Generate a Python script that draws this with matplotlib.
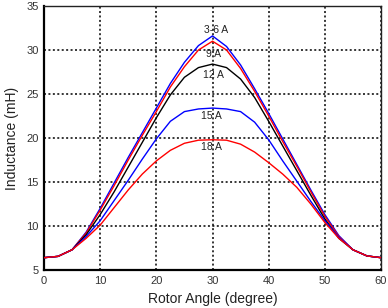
import matplotlib
matplotlib.use("Agg")
import matplotlib.pyplot as plt

angles = [0, 2.5, 5, 7.5, 10, 12.5, 15, 17.5, 20, 22.5, 25, 27.5, 30,
          32.5, 35, 37.5, 40, 42.5, 45, 47.5, 50, 52.5, 55, 57.5, 60]

L_3_6A = [6.4, 6.55, 7.3, 9.3, 12.0, 14.9, 17.8, 20.6, 23.4, 26.2, 28.6, 30.5, 31.6,
          30.4, 28.3, 25.6, 22.8, 19.9, 17.0, 14.1, 11.3, 8.9, 7.3, 6.6, 6.4]
L_9A = [6.4, 6.55, 7.3, 9.2, 11.8, 14.6, 17.5, 20.3, 23.0, 25.8, 28.1, 30.0, 31.0,
        30.0, 27.9, 25.3, 22.5, 19.6, 16.8, 13.9, 11.1, 8.8, 7.3, 6.6, 6.4]
L_12A = [6.4, 6.55, 7.3, 9.0, 11.3, 13.9, 16.7, 19.5, 22.3, 24.9, 26.9, 28.0, 28.4,
         28.0, 26.7, 24.6, 21.9, 19.1, 16.3, 13.5, 10.8, 8.6, 7.3, 6.6, 6.4]
L_15A = [6.4, 6.55, 7.3, 8.8, 10.6, 12.9, 15.2, 17.6, 19.9, 21.9, 23.0, 23.3, 23.4,
         23.3, 23.0, 21.8, 19.8, 17.4, 15.1, 12.8, 10.6, 8.7, 7.3, 6.6, 6.4]
L_18A = [6.4, 6.55, 7.3, 8.6, 10.1, 12.1, 14.1, 15.9, 17.4, 18.6, 19.4, 19.75, 19.8,
         19.75, 19.3, 18.4, 17.2, 15.9, 14.4, 12.5, 10.4, 8.6, 7.3, 6.6, 6.4]

series = [("3-6 A", L_3_6A, "#0000ff"),
          ("9 A", L_9A, "#ff0000"),
          ("12 A", L_12A, "#000000"),
          ("15 A", L_15A, "#0000ff"),
          ("18 A", L_18A, "#ff0000")]

x_ticks = [0, 10, 20, 30, 40, 50, 60]
y_ticks = [5, 10, 15, 20, 25, 30, 35]

plt.rcParams['font.family'] = ['Liberation Sans', 'DejaVu Sans']

fig = plt.figure(figsize=(3.88, 3.08), dpi=100)
ax = fig.add_axes([44/388, 1-270/308, 337/388, 264/308])

for name, vals, col in series:
    ax.plot(angles, vals, color=col, lw=1.0, zorder=3)

ax.set_xlim(0, 60)
ax.set_ylim(5, 35)
ax.set_xticks(x_ticks)
ax.set_yticks(y_ticks)
ax.tick_params(length=0, labelsize=8, colors='#333333', pad=4)
ax.grid(True, color='black', linestyle=(0, (1.3, 1.6)), linewidth=1.1, zorder=1)

for s in ['left', 'bottom']:
    ax.spines[s].set_linewidth(1.6)
    ax.spines[s].set_color('black')
for s in ['top', 'right']:
    ax.spines[s].set_linewidth(1.0)
    ax.spines[s].set_color('#222222')

ax.set_xlabel("Rotor Angle (degree)", fontsize=10, color='#222222', labelpad=5)
ax.set_ylabel("Inductance (mH)", fontsize=10, color='#222222', labelpad=5)

labels_pos = {"3-6 A": (30.7, 32.3), "9 A": (30.2, 29.6), "12 A": (30.2, 27.2),
              "15 A": (29.8, 22.5), "18 A": (29.8, 19.0)}
for name, vals, col in series:
    x, y = labels_pos[name]
    ax.text(x, y, name, fontsize=7.5, color='#222222', ha='center', va='center', zorder=4)

fig.savefig("out.png", dpi=100)
